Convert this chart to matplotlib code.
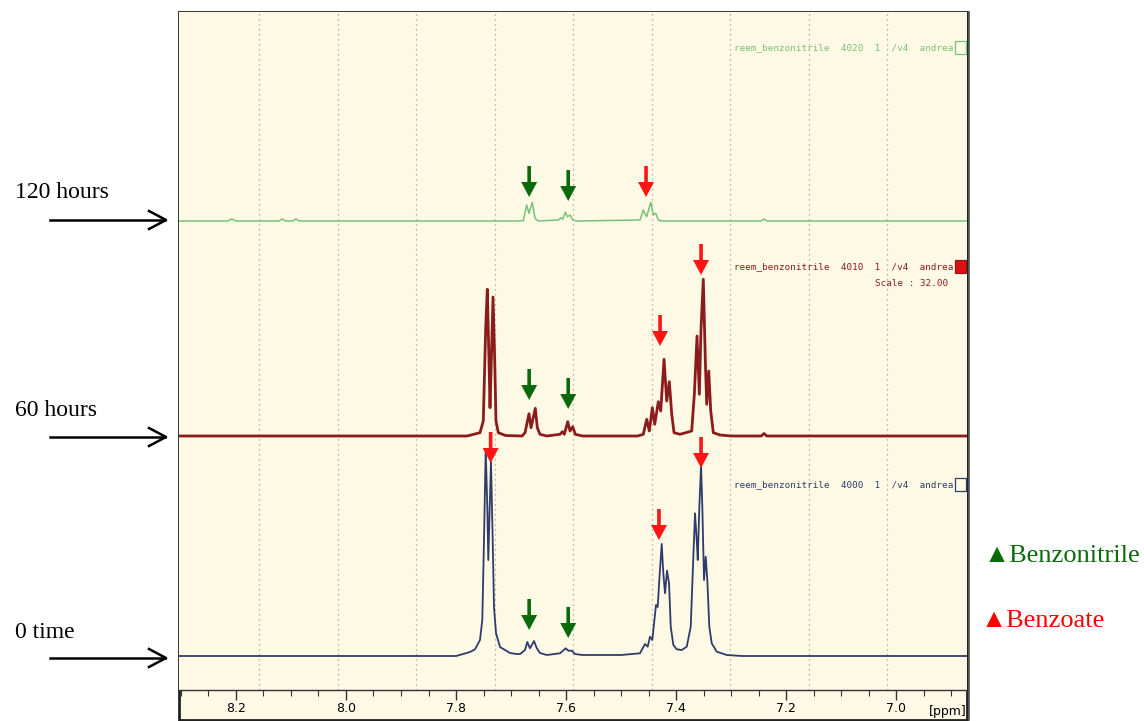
import numpy as np
import matplotlib
matplotlib.use("Agg")
import matplotlib.pyplot as plt
from matplotlib.patches import Rectangle

W, H = 1144, 721

# ---- spectra: (ppm, intensity above baseline) ----
ppm_0h = [8.31, 7.80, 7.79, 7.7745, 7.7655, 7.7564, 7.7522, 7.7491, 7.746, 7.7431, 7.7413,
          7.7387, 7.7364, 7.7333, 7.7309, 7.7273, 7.72, 7.7018, 7.69, 7.6836, 7.6745,
          7.6704, 7.6655, 7.6582, 7.6533, 7.6473, 7.635, 7.6109, 7.6005, 7.5958, 7.5896,
          7.5836, 7.57, 7.50, 7.4655, 7.4564, 7.4515, 7.4473, 7.4431, 7.4364, 7.4333,
          7.4304, 7.426, 7.4231, 7.42, 7.4164, 7.4127, 7.4096, 7.4049, 7.3987, 7.3896,
          7.3805, 7.3733, 7.3696, 7.3655, 7.3624, 7.3605, 7.3576, 7.3545, 7.3522, 7.3491,
          7.346, 7.3431, 7.3395, 7.3351, 7.326, 7.3078, 7.28, 6.86]
int_0h = [0, 0, 1.5, 4, 6.7, 16, 36, 116, 207, 149, 96,
          149, 195, 116, 49, 23, 9, 3, 2, 2, 6,
          14, 7.7, 15, 8, 3, 1, 2.7, 7.7, 5.3, 5.3,
          2, 1, 1, 2.7, 12, 9.3, 19.3, 16, 51, 49,
          76, 112, 82.7, 62.7, 85.3, 72.7, 29.3, 11, 6.7, 6,
          9.3, 29.3, 83, 142.7, 116, 96, 149, 191, 149, 76,
          99.3, 76, 29.3, 12.7, 4.3, 1, 0, 0]

ppm_60h = [8.31, 7.78, 7.7564, 7.7504, 7.746, 7.7431, 7.74, 7.7382, 7.7358, 7.7327,
           7.7296, 7.7273, 7.7231, 7.71, 7.68, 7.6745, 7.6673, 7.6636, 7.6558, 7.6522,
           7.6473, 7.635, 7.6109, 7.6067, 7.6031, 7.5969, 7.5927, 7.5878, 7.5831, 7.57,
           7.47, 7.4595, 7.4533, 7.4485, 7.4431, 7.4387, 7.4322, 7.4278, 7.4218, 7.4169,
           7.4122, 7.4078, 7.4036, 7.3927, 7.3715, 7.3667, 7.3618, 7.3576, 7.3545, 7.3504,
           7.3467, 7.3442, 7.3405, 7.3369, 7.3322, 7.32, 7.30, 7.245, 7.24, 7.235, 6.86]
int_60h = [0, 0, 3.3, 15, 108, 146.7, 75, 28.3, 75, 139,
           75, 15, 3.3, 0.5, 0, 3.3, 22.3, 8.3, 27.7, 8.3,
           1.7, 0, 1.7, 4.3, 1.7, 14.3, 5, 9.3, 1.7, 0,
           0, 1.7, 16.7, 5, 28.3, 11.7, 34.3, 25, 76.7, 35,
           54.3, 21.7, 3.3, 1.7, 5, 41.7, 100, 41.7, 108, 156.7,
           75, 31.7, 65, 25, 3.3, 1, 0, 0, 2.5, 0, 0]

ppm_120h = [8.31, 8.215, 8.208, 8.20, 8.122, 8.116, 8.110, 8.097, 8.091, 8.085,
            7.69, 7.6776, 7.6715, 7.6673, 7.6613, 7.6564, 7.6504, 7.614, 7.6096, 7.606,
            7.6013, 7.5976, 7.5927, 7.5878, 7.5805, 7.4655, 7.4595, 7.4533, 7.446, 7.4413,
            7.4369, 7.4322, 7.426, 7.245, 7.24, 7.235, 6.86]
int_120h = [0, 0, 2, 0, 0, 2, 0, 0, 2, 0,
            0, 0.3, 16, 7.7, 18.7, 2.7, 0, 1, 3.3, 1.7,
            8.7, 4.3, 6, 1, 0, 1, 11, 4.3, 18.7, 6,
            7.7, 1, 0, 0, 2, 0, 0]

# baseline offsets of the stacked spectra (axis units = screen pixels)
offset_0h, offset_60h, offset_120h = 34, 254, 469

# marker arrows: (ppm, tip height)
green_arrows = [(7.667, 493), (7.596, 489), (7.667, 290), (7.596, 281), (7.667, 60), (7.596, 52)]
red_arrows = [(7.4545, 493), (7.429, 344), (7.3545, 415), (7.737, 227), (7.431, 150), (7.3545, 222)]

# dotted reference grid (ppm)
grid_ppm = [8.158 - 0.14273 * k for k in range(9)]

major_ticks = [8.2, 8.0, 7.8, 7.6, 7.4, 7.2, 7.0]
minor_ticks = list(np.round(np.arange(6.90, 8.30, 0.05), 2))

CREAM = "#fdf9e4"
C_BLUE, C_RED, C_GREEN = "#2f3b6c", "#8c1c1c", "#78c278"
ARROW_GREEN, ARROW_RED = "#0a6a0a", "#ff1414"

fig = plt.figure(figsize=(W / 100, H / 100), dpi=100)
fig.patch.set_facecolor("white")


def fx(x):
    return x / W


def fy(y):
    return 1 - y / H


# outer frame of the spectrum window
fig.add_artist(Rectangle((fx(179), fy(720)), fx(967) - fx(179), fy(12) - fy(720),
                         transform=fig.transFigure, facecolor=CREAM,
                         edgecolor="#222222", lw=2.0, zorder=0))
fig.add_artist(plt.Line2D([fx(969), fx(969)], [fy(12), fy(720)], transform=fig.transFigure,
                          color="#555555", lw=1.2, zorder=5))

ax = fig.add_axes([fx(179), fy(690), fx(967) - fx(179), fy(12) - fy(690)])
ax.set_facecolor(CREAM)
ax.set_xlim(8.3036, 6.871)
ax.set_ylim(0, 678)

for g in grid_ppm:
    ax.axvline(g, color="#a39c8a", lw=0.9, ls=(0, (1, 3)), zorder=1)

ax.plot(ppm_120h, np.array(int_120h) + offset_120h, color=C_GREEN, lw=1.1, zorder=3)
ax.plot(ppm_60h, np.array(int_60h) + offset_60h, color=C_RED, lw=2.0, zorder=3)
ax.plot(ppm_0h, np.array(int_0h) + offset_0h, color=C_BLUE, lw=1.3, zorder=3)

arrow_len_pt = 31 * 0.72
for arrows, col in ((green_arrows, ARROW_GREEN), (red_arrows, ARROW_RED)):
    for p, tip in arrows:
        ax.annotate("", xy=(p, tip), xytext=(0, arrow_len_pt), textcoords="offset points",
                    arrowprops=dict(width=2.6, headwidth=11.5, headlength=10.8,
                                    facecolor=col, edgecolor="none", shrink=0),
                    zorder=6)

for s in ("left", "right", "top"):
    ax.spines[s].set_visible(False)
ax.spines["bottom"].set_color("#333333")
ax.spines["bottom"].set_linewidth(1.0)
ax.set_yticks([])
ax.set_xticks(major_ticks)
ax.set_xticklabels([f"{t:.1f}" for t in major_ticks],
                   fontfamily=["DejaVu Sans"], fontsize=9)
ax.set_xticks(minor_ticks, minor=True)
ax.tick_params(axis="x", which="major", direction="out", length=7, width=1.0,
               color="#333333", pad=2)
ax.tick_params(axis="x", which="minor", direction="out", length=4, width=0.8,
               color="#333333")
fig.text(fx(948), fy(711), "[ppm]", ha="center", va="center", fontsize=9,
         fontfamily=["DejaVu Sans"])

# spectrum headers
mono = ["DejaVu Sans Mono"]
headers = [("reem_benzonitrile  4020  1  /v4  andrea", 48, C_GREEN, "none", C_GREEN),
           ("reem_benzonitrile  4010  1  /v4  andrea", 267, C_RED, "#e01010", C_RED),
           ("reem_benzonitrile  4000  1  /v4  andrea", 485, C_BLUE, "none", C_BLUE)]
for txt, y, col, fc, ec in headers:
    fig.text(fx(953), fy(y), txt, ha="right", va="center", fontsize=6.7,
             fontfamily=mono, color=col)
    fig.add_artist(Rectangle((fx(955), fy(y + 6)), fx(11), fy(0) - fy(13),
                             transform=fig.transFigure, facecolor=fc,
                             edgecolor=ec, lw=0.9, zorder=6))
fig.text(fx(875), fy(283), "Scale : 32.00", ha="left", va="center", fontsize=6.7,
         fontfamily=mono, color=C_RED)

# time labels with pointers
serif = ["Liberation Serif", "DejaVu Serif"]
for label, ty, ay in (("120 hours", 193, 220), ("60 hours", 411, 437), ("0 time", 632, 658)):
    fig.text(fx(15), fy(ty), label, ha="left", va="center", fontsize=17,
             fontfamily=serif, color="black")
    fig.add_artist(plt.Line2D([fx(50), fx(165)], [fy(ay), fy(ay)],
                              transform=fig.transFigure, color="black", lw=1.8))
    fig.add_artist(plt.Line2D([fx(149), fx(166), fx(149)], [fy(ay - 9), fy(ay), fy(ay + 9)],
                              transform=fig.transFigure, color="black", lw=1.8))

# legend
legend_font = ["Liberation Serif", "DejaVu Sans"]
fig.text(fx(984), fy(556), "▲Benzonitrile", ha="left", va="center", fontsize=19,
         fontfamily=legend_font, color="#0b6b0b")
fig.text(fx(981), fy(621), "▲Benzoate", ha="left", va="center", fontsize=19,
         fontfamily=legend_font, color="#ff0000")

fig.savefig("out.png", dpi=100, facecolor="white")
